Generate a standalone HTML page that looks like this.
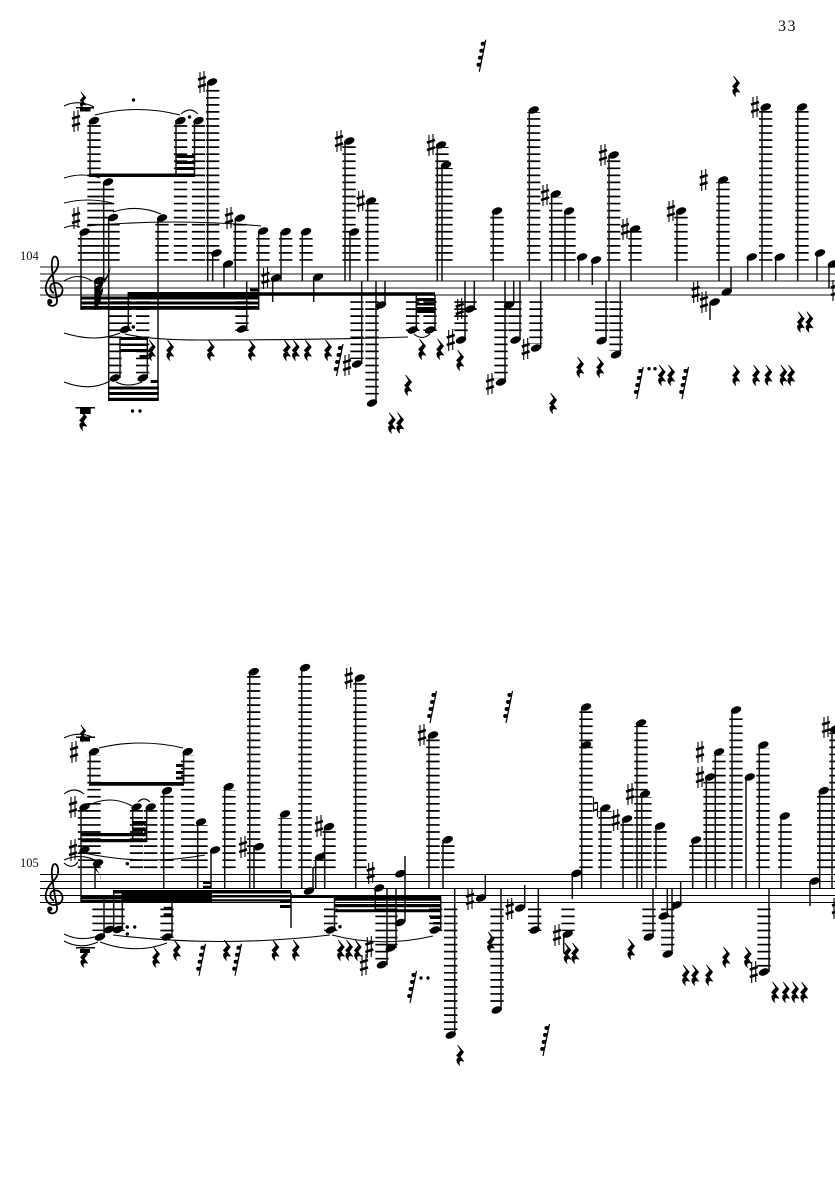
<!DOCTYPE html>
<html><head><meta charset="utf-8"><style>
html,body{margin:0;padding:0;background:#fff}
svg{display:block}
.t{font-family:"Liberation Serif",serif;fill:#111}
.st{stroke:#111;stroke-width:1.5;fill:none}
.l{stroke:#000;stroke-width:13.3;fill:none;stroke-dasharray:1.7 5.35}
.sl{stroke:#000;stroke-width:1.1;fill:none}
</style></head><body>
<svg width="835" height="1181" viewBox="0 0 835 1181" xmlns="http://www.w3.org/2000/svg">
<defs>
<g id="h"><ellipse rx="5.5" ry="3.4" transform="rotate(-22)"/></g>
<g id="s"><path d="M-2-10V11M2-11V10" stroke="#000" stroke-width="1.1"/><path d="M-4-2.4L4-5M-4 5L4 2.4" stroke="#000" stroke-width="2.6"/></g>
<g id="r"><path d="M-2.5-10L3.6-3L.2 1.5L3.8 6.4C.8 5-1.8 5.8-.4 10.2C-4 7-4.2 2.6-.8 3L-3.4.4L.8-4.4Z" stroke="#000" stroke-width=".7"/></g>
<g id="q"><path d="M0 0L6.5-32" stroke="#000" stroke-width="1.2" fill="none"/><circle cx="-.8" cy="-7" r="2"/><circle cx=".6" cy="-14" r="2"/><circle cx="2" cy="-21" r="2"/><circle cx="3.4" cy="-28" r="2"/><path d="M-.6-7.5L2.4-9.4M.8-14.5L3.8-16.4M2.2-21.5L5.2-23.4M3.6-28.5L6.4-30.4" stroke="#000" stroke-width="1"/></g>
<g id="c"><path d="M54 293C49 291 49 284 54 283C60 282 64 288 62 293C60 298 52 299 48 295C43 289 47 280 52 275C56 271 59 267 58 261C57 256 54 255 52.5 259C51 264 52 270 54 283L57 300C58 306 50 308 48 303" fill="none" stroke="#000" stroke-width="1.8"/><circle cx="49.8" cy="301.5" r="2.6"/></g>
</defs>
<rect width="835" height="1181" fill="#fff"/>
<text class="t" x="778" y="31" font-size="16" letter-spacing="1.5">33</text>
<text class="t" x="20" y="260" font-size="12.5">104</text>
<text class="t" x="20" y="867" font-size="12.5">105</text>

<!-- staves -->
<path d="M40 267H835M40 274H835M40 281H835M40 288H835M40 295H835" stroke="#444" stroke-width="1.2" fill="none"/>
<path d="M40 874.5H835M40 881.5H835M40 888.5H835M40 895.5H835M40 902.5H835" stroke="#000" stroke-width="1.1" fill="none"/>
<use href="#c"/><use href="#c" y="607.5"/>

<!-- ledger lines -->
<path class="l" d="M94 260.8V123M107.5 260.8V187M113 260.8V220M84.5 260.8V235M162 260.8V221M180.5 260.8V123M198.5 260.8V123M212.7 260.8V85M240 260.8V221M263 260.8V234M285.7 260.8V234M306 260.8V234M349 260.8V143M354 260.8V234M372 260.8V203M442 260.8V147M446 260.8V168M497 260.8V213M533.7 260.8V112M555.7 260.8V197M569 260.8V213M613.7 260.8V157M635 260.8V231M681 260.8V213M723 260.8V182M765.7 260.8V110M802 260.8V110"/>
<path class="l" d="M242 301.2V331M115 301.2V376M142.7 301.2V376M125 301.2V331M142.7 301.2V331M357 301.2V359M372 301.2V399M412.7 301.2V331M430 301.2V331M461 301.2V336M470 301.2V310M501 301.2V379M515 301.2V336M536 301.2V344M509 301.2V306M601.7 301.2V336M616 301.2V351"/>
<path class="l" d="M94 868.1V755M187.7 868.1V755M84.5 868.1V810M136.5 868.1V810M150.7 868.1V810M167 868.1V794M201 868.1V825M229 868.1V790M253.7 868.1V675M285 868.1V818M305 868.1V671M329 868.1V830M360 868.1V681M433 868.1V738M447.7 868.1V842M258.7 868.1V850M320 868.1V860M586 868.1V710M605 868.1V811M627 868.1V822M641 868.1V726M645 868.1V797M660 868.1V829M696 868.1V843M710 868.1V780M719 868.1V755M736 868.1V713M763 868.1V748M785 868.1V819M823.7 868.1V794M836 868.1V732"/>
<path class="l" d="M99 908.5V931M109 908.5V931M118 908.5V931M167 908.5V938M330.7 908.5V931M435.7 908.5V931M391 908.5V945M382 908.5V961M450.7 908.5V1031M497 908.5V1006M534.7 908.5V931M568 908.5V931M649 908.5V933M667.7 908.5V951M764 908.5V968"/>

<!-- stems -->
<path class="st" d="M90 120V175M176 120V175M194.5 120V175M207.7 82V281M103.7 182V281M108.7 217V400M81 232V310M158 218V400M212.7 253V281M224 264V288M235.3 218V281M258.7 231V310M246.7 329V281.5M128.3 329V292M120 378V338M147.3 378V338M95 280V310M272.7 278V302M281 232V281M302.3 232V281M313.7 277V302M345 141V281M350 232V281M367.7 201V281M437.3 145V281M442 165V281M493.3 211V281M529.3 110V281M551.7 194V281M385 305V281M376 403V281M361.7 364V281M416.3 330V294M435 330V295M474.3 309V281M465 340V281M505 382V281M513.7 304V281M520 340V281M540.7 348V281M565 211V281M578.7 257V281M592.3 260V285M609 155V281M631 229V281M606 340V281M620.3 354V281M677 211V281M719 180V281M731 292V267M710 302V320M747.7 257V281M762 107V281M775.7 257V281M797.7 107V281M817 253V281M829 264V288"/>
<path class="st" d="M90 752V784M183.7 752V784M81 807V902M132.7 807V842M146.7 807V842M163.7 791V888M197.7 822V888M224.7 787V888M211 850V888M249.7 672V888M254 847V888M95 863V888M104 937V896M113.7 929V890M122.3 929V890M172 937V902M301.7 668V888M281.3 814V888M324.7 827V888M315.7 857V888M313 891V867M355.7 678V888M429 735V888M443 840V888M375.3 888V910M405 856V922M396 948V888M387 965V888M334.5 930V897M440.7 930V897M454.7 1035V888M291 893V928M485.3 898V875M501 1010V888M524.7 908V885M538.3 930V888M572.3 873V899M581.7 707V888M601 808V888M563.7 934V953M623 819V888M637 723V888M641.7 794V888M656 826V888M653 937V888M667.3 916V888M672 954V888M680.7 905V881M692.7 840V888M706.3 777V888M715.3 752V888M732 710V888M746 777V888M759.3 745V888M781 816V888M810 881V906M819.7 791V888M832 729V888M769 972V888"/>

<!-- beams -->
<path d="M89 173.5H195V177H89ZM176 155H195V158H176ZM176 161H195V164H176ZM176 167H195V170H176Z"/>
<path d="M128 292H259V297H128ZM80.5 296.5H259V299.5H80.5ZM80.5 301.5H259V304.5H80.5ZM80.5 306H259V309.7H80.5ZM250 288.5H258V291.5H250Z"/>
<path d="M119.5 337H147.5V340H119.5ZM119.5 343.5H147.5V346H119.5ZM119.5 349H147.5V352H119.5ZM139.5 355H147.5V358H139.5ZM108 386.5H158.7V389.5H108ZM108 392H158.7V395H108ZM108 397.7H158.7V401H108ZM150.7 380H158.5V383H150.7Z"/>
<path d="M258 292.3H435V295.8H258ZM416 298H435V301H416ZM416 303H435V305.5H416ZM416 307H435V313H416Z"/>
<path d="M89 782H184V785.7H89ZM176 764H183.7V767H176ZM176 771H183.7V774H176ZM176 776.7H183.7V779.5H176Z"/>
<path d="M81 833H147V836.3H81ZM81 839H147V842.3H81ZM132.7 821H147V825H132.7ZM132.7 827.5H147V831H132.7Z"/>
<path d="M81 896H122V899H81ZM81 899.5H122V902.5H81ZM113.3 890H291V893.5H113.3ZM122 893H212V902.5H122ZM212 895H291V897.5H212ZM212 899.3H291V901.5H212ZM203 881.7H211.5V884H203ZM203 885.7H211.5V889H203ZM280 899.5H291V902.5H280ZM280 905H291V908H280ZM163.7 906.7H172V909.3H163.7ZM163.7 913.3H172V916H163.7Z"/>
<path d="M290 895.5H441V898H290ZM334.3 897.3H441V900.7H334.3ZM334.3 904H441V907.3H334.3ZM334.3 909.3H441V912.3H334.3ZM430 916H440.7V919H430ZM433 922H440.7V924.5H433Z"/>

<!-- rests with bars -->
<path d="M76 107H94V108.5H76ZM80 108H90.5V111.5H80ZM75.5 407H95V408.5H75.5ZM80 408.5H90.7V414H80ZM76 736.5H95V738H76ZM80 737H90V741.5H80ZM76 947H95V948.5H76ZM80 949H90V953H80Z"/>

<!-- note heads staff 1 -->
<g>
<use href="#h" x="94" y="120.7"/><use href="#h" x="180.5" y="120.7"/><use href="#h" x="198.5" y="120.7"/><use href="#h" x="212" y="82"/><use href="#h" x="108" y="182"/><use href="#h" x="113" y="217.5"/><use href="#h" x="84.5" y="232"/><use href="#h" x="162" y="218"/><use href="#h" x="216.5" y="253"/><use href="#h" x="228" y="264"/><use href="#h" x="240" y="218"/><use href="#h" x="263" y="231"/><use href="#h" x="242" y="329"/><use href="#h" x="99" y="280.5"/><use href="#h" x="125" y="329.5"/><use href="#h" x="115" y="378"/><use href="#h" x="142.7" y="378"/><use href="#h" x="276" y="278"/><use href="#h" x="285.7" y="231.7"/><use href="#h" x="306" y="231.7"/><use href="#h" x="318" y="277"/><use href="#h" x="349.3" y="141"/><use href="#h" x="354" y="232"/><use href="#h" x="371" y="201"/><use href="#h" x="441" y="145"/><use href="#h" x="446" y="165"/><use href="#h" x="497" y="211"/><use href="#h" x="533.7" y="110"/><use href="#h" x="555.7" y="194"/><use href="#h" x="381" y="305"/><use href="#h" x="372" y="403"/><use href="#h" x="357" y="364"/><use href="#h" x="412.7" y="330"/><use href="#h" x="430" y="330"/><use href="#h" x="470" y="309"/><use href="#h" x="461" y="340"/><use href="#h" x="501" y="382"/><use href="#h" x="509" y="305"/><use href="#h" x="515.5" y="340"/><use href="#h" x="536" y="348"/><use href="#h" x="569" y="211"/><use href="#h" x="582" y="257"/><use href="#h" x="596" y="260"/><use href="#h" x="613.7" y="155"/><use href="#h" x="635" y="229"/><use href="#h" x="601.7" y="340.7"/><use href="#h" x="616" y="354.7"/><use href="#h" x="681" y="211"/><use href="#h" x="723" y="180"/><use href="#h" x="726.7" y="292"/><use href="#h" x="714.7" y="302"/><use href="#h" x="751.7" y="257"/><use href="#h" x="765.7" y="107"/><use href="#h" x="779.7" y="257"/><use href="#h" x="802" y="107"/><use href="#h" x="820" y="253"/><use href="#h" x="833" y="264"/>
</g>
<!-- note heads staff 2 -->
<g>
<use href="#h" x="94" y="751.7"/><use href="#h" x="187.7" y="751.7"/><use href="#h" x="84.5" y="807"/><use href="#h" x="136.5" y="807"/><use href="#h" x="150.7" y="807"/><use href="#h" x="167" y="790.7"/><use href="#h" x="201" y="822"/><use href="#h" x="228.7" y="786.7"/><use href="#h" x="215" y="850"/><use href="#h" x="253.7" y="671.7"/><use href="#h" x="258.7" y="846.7"/><use href="#h" x="84.5" y="850"/><use href="#h" x="98" y="863"/><use href="#h" x="100" y="937"/><use href="#h" x="109" y="929.5"/><use href="#h" x="118" y="929.5"/><use href="#h" x="167" y="937"/><use href="#h" x="305" y="667.7"/><use href="#h" x="285" y="814"/><use href="#h" x="329" y="826.7"/><use href="#h" x="320" y="857"/><use href="#h" x="309" y="891"/><use href="#h" x="359.7" y="678"/><use href="#h" x="433" y="735"/><use href="#h" x="447.7" y="839.7"/><use href="#h" x="379" y="888"/><use href="#h" x="400.3" y="873.7"/><use href="#h" x="400" y="922.5"/><use href="#h" x="390.7" y="948"/><use href="#h" x="382" y="964.7"/><use href="#h" x="330.7" y="930"/><use href="#h" x="435" y="930"/><use href="#h" x="450.7" y="1035"/><use href="#h" x="481" y="898"/><use href="#h" x="496.7" y="1010"/><use href="#h" x="520" y="908"/><use href="#h" x="534.7" y="930"/><use href="#h" x="576.3" y="873.3"/><use href="#h" x="586" y="707"/><use href="#h" x="586" y="745"/><use href="#h" x="605.3" y="808"/><use href="#h" x="567.7" y="934"/><use href="#h" x="627" y="819"/><use href="#h" x="641" y="723"/><use href="#h" x="645" y="794"/><use href="#h" x="660" y="826"/><use href="#h" x="648.7" y="937"/><use href="#h" x="663.7" y="916"/><use href="#h" x="667.7" y="954"/><use href="#h" x="676.7" y="905"/><use href="#h" x="696" y="840"/><use href="#h" x="710" y="777"/><use href="#h" x="719" y="752"/><use href="#h" x="736" y="710"/><use href="#h" x="749.7" y="777"/><use href="#h" x="763.3" y="745"/><use href="#h" x="784.7" y="816"/><use href="#h" x="814.7" y="881"/><use href="#h" x="823.7" y="790.7"/><use href="#h" x="835" y="729"/><use href="#h" x="764" y="972"/>
</g>

<!-- sharps -->
<g>
<use href="#s" x="76" y="121"/><use href="#s" x="202" y="82"/><use href="#s" x="76" y="218"/><use href="#s" x="229" y="218"/><use href="#s" x="265.5" y="278"/><use href="#s" x="339" y="141"/><use href="#s" x="360.7" y="201"/><use href="#s" x="431" y="145"/><use href="#s" x="545" y="195"/><use href="#s" x="347" y="365"/><use href="#s" x="459.7" y="309"/><use href="#s" x="450.7" y="340"/><use href="#s" x="490" y="384"/><use href="#s" x="525.7" y="349"/><use href="#s" x="603" y="155"/><use href="#s" x="625" y="229"/><use href="#s" x="671" y="211"/><use href="#s" x="703.7" y="180"/><use href="#s" x="695.7" y="292"/><use href="#s" x="704" y="302"/><use href="#s" x="755" y="107"/><use href="#s" x="835" y="290"/>
<use href="#s" x="74" y="752"/><use href="#s" x="73" y="807"/><use href="#s" x="73" y="850"/><use href="#s" x="243" y="847"/><use href="#s" x="319" y="826"/><use href="#s" x="348.7" y="678"/><use href="#s" x="422" y="735"/><use href="#s" x="370.7" y="873"/><use href="#s" x="369.3" y="947"/><use href="#s" x="364" y="965"/><use href="#s" x="470" y="899"/><use href="#s" x="509.7" y="909"/><use href="#s" x="557" y="935"/><use href="#s" x="615.7" y="820"/><use href="#s" x="630" y="794"/><use href="#s" x="700" y="777"/><use href="#s" x="700" y="752"/><use href="#s" x="826" y="727"/><use href="#s" x="753.7" y="972"/><use href="#s" x="836" y="908"/>
</g>
<!-- natural -->
<path d="M593.5 797V812M597.5 802V817" stroke="#000" stroke-width="1.1"/><path d="M593.5 803.5L597.5 802.5M593.5 810.5L597.5 809.5" stroke="#000" stroke-width="1.8"/>

<!-- rests -->
<g>
<use href="#r" x="83" y="100" transform="translate(14 17) scale(.83)"/>
<use href="#r" x="83" y="420"/><use href="#r" x="151.7" y="350"/><use href="#r" x="170" y="350"/><use href="#r" x="210.7" y="350"/><use href="#r" x="251.7" y="350"/><use href="#r" x="286.7" y="350"/><use href="#r" x="295.7" y="350"/><use href="#r" x="307.7" y="350"/><use href="#r" x="328" y="350"/><use href="#r" x="422" y="349"/><use href="#r" x="440" y="349"/><use href="#r" x="460" y="360"/><use href="#r" x="408" y="385"/><use href="#r" x="553" y="403"/><use href="#r" x="391.7" y="422.7"/><use href="#r" x="400" y="422.7"/><use href="#r" x="736" y="86"/><use href="#r" x="580" y="367"/><use href="#r" x="600" y="367"/><use href="#r" x="661.7" y="375"/><use href="#r" x="671" y="375"/><use href="#r" x="736" y="375"/><use href="#r" x="756" y="375"/><use href="#r" x="768.3" y="375"/><use href="#r" x="783.3" y="375"/><use href="#r" x="791" y="375"/><use href="#r" x="800.7" y="321.7"/><use href="#r" x="809.3" y="321.7"/>
<use href="#r" x="156" y="957"/><use href="#r" x="176.7" y="950"/><use href="#r" x="226.7" y="950"/><use href="#r" x="275.3" y="950"/><use href="#r" x="295.7" y="950"/><use href="#r" x="340.7" y="950"/><use href="#r" x="349" y="950"/><use href="#r" x="357.7" y="950"/><use href="#r" x="460" y="1055"/><use href="#r" x="490.7" y="942"/><use href="#r" x="567.3" y="953"/><use href="#r" x="575" y="953"/><use href="#r" x="631" y="949"/><use href="#r" x="685.7" y="975"/><use href="#r" x="695" y="975"/><use href="#r" x="709" y="975"/><use href="#r" x="726" y="957"/><use href="#r" x="747.7" y="957"/><use href="#r" x="775" y="992"/><use href="#r" x="785.7" y="992"/><use href="#r" x="795" y="992"/><use href="#r" x="804" y="992"/><use href="#r" x="83" y="733" transform="translate(14 125) scale(.83)"/><use href="#r" x="84" y="957"/>
</g>
<!-- 32nd rests -->
<g>
<use href="#q" x="479.3" y="71.7"/><use href="#q" x="336.5" y="376"/><use href="#q" x="636.7" y="399"/><use href="#q" x="682" y="399"/><use href="#q" x="199" y="975.7"/><use href="#q" x="235" y="975.7"/><use href="#q" x="410" y="1003"/><use href="#q" x="430" y="723"/><use href="#q" x="506" y="723"/><use href="#q" x="543" y="1056"/>
</g>

<!-- dots -->
<g>
<circle cx="133.5" cy="100" r="1.7"/><circle cx="189.5" cy="117" r="1.7"/><circle cx="133.3" cy="327" r="1.7"/><circle cx="132.5" cy="411" r="1.7"/><circle cx="140" cy="411" r="1.7"/><circle cx="649" cy="368.7" r="1.7"/><circle cx="655" cy="368.7" r="1.7"/><circle cx="127.3" cy="863.7" r="1.7"/><circle cx="127.3" cy="927" r="1.7"/><circle cx="134.7" cy="927" r="1.7"/><circle cx="127.3" cy="934" r="1.7"/><circle cx="340" cy="926.7" r="1.7"/><circle cx="421" cy="978" r="1.7"/><circle cx="428" cy="978" r="1.7"/>
</g>

<!-- flags -->
<path d="M103.5 280C107 276 112 270 109.5 262C112 270 109 276 103.5 284ZM95 287L103 281C104 286 100 291 95 295ZM95 294L103 288C104 293 100 298 95 303ZM95 301L101 296C102 301 98 306 95 310Z"/>
<path d="M94.5 863C96 872 103 874 100 882C102 874 97 872 94.5 869Z"/>

<!-- ties -->
<g class="sl">
<path d="M64 106Q78 99 94 107M95 115Q137 104 180 115M181 114Q190 106 198 114M64 178Q82 172 100 178M64 203Q88 197 112 203M64 228Q72 224 80 227M87 226Q175 218 261 226M113 212Q137 204 161 214"/>
<path d="M64 281Q78 272 92 281M64 333Q96 343 120 333M125 334Q150 340 200 340Q320 340 408 337M64 382Q90 392 110 381M116 382Q128 388 142 382M414 334Q422 341 430 334"/>
<path d="M64 738Q78 731 92 737M99 748Q141 738 183 748M64 794Q74 786 84 794M87 806Q110 794 132 806M138 802Q144 796 150 802M64 860Q82 852 98 862M64 863Q72 870 78 862M84 853Q145 866 205 855"/>
<path d="M64 934Q80 942 98 936M64 941Q80 950 98 942M113 935Q220 948 330 935M100 942Q135 955 167 943M332 935Q382 948 433 936"/>
</g>
</svg>
</body></html>
